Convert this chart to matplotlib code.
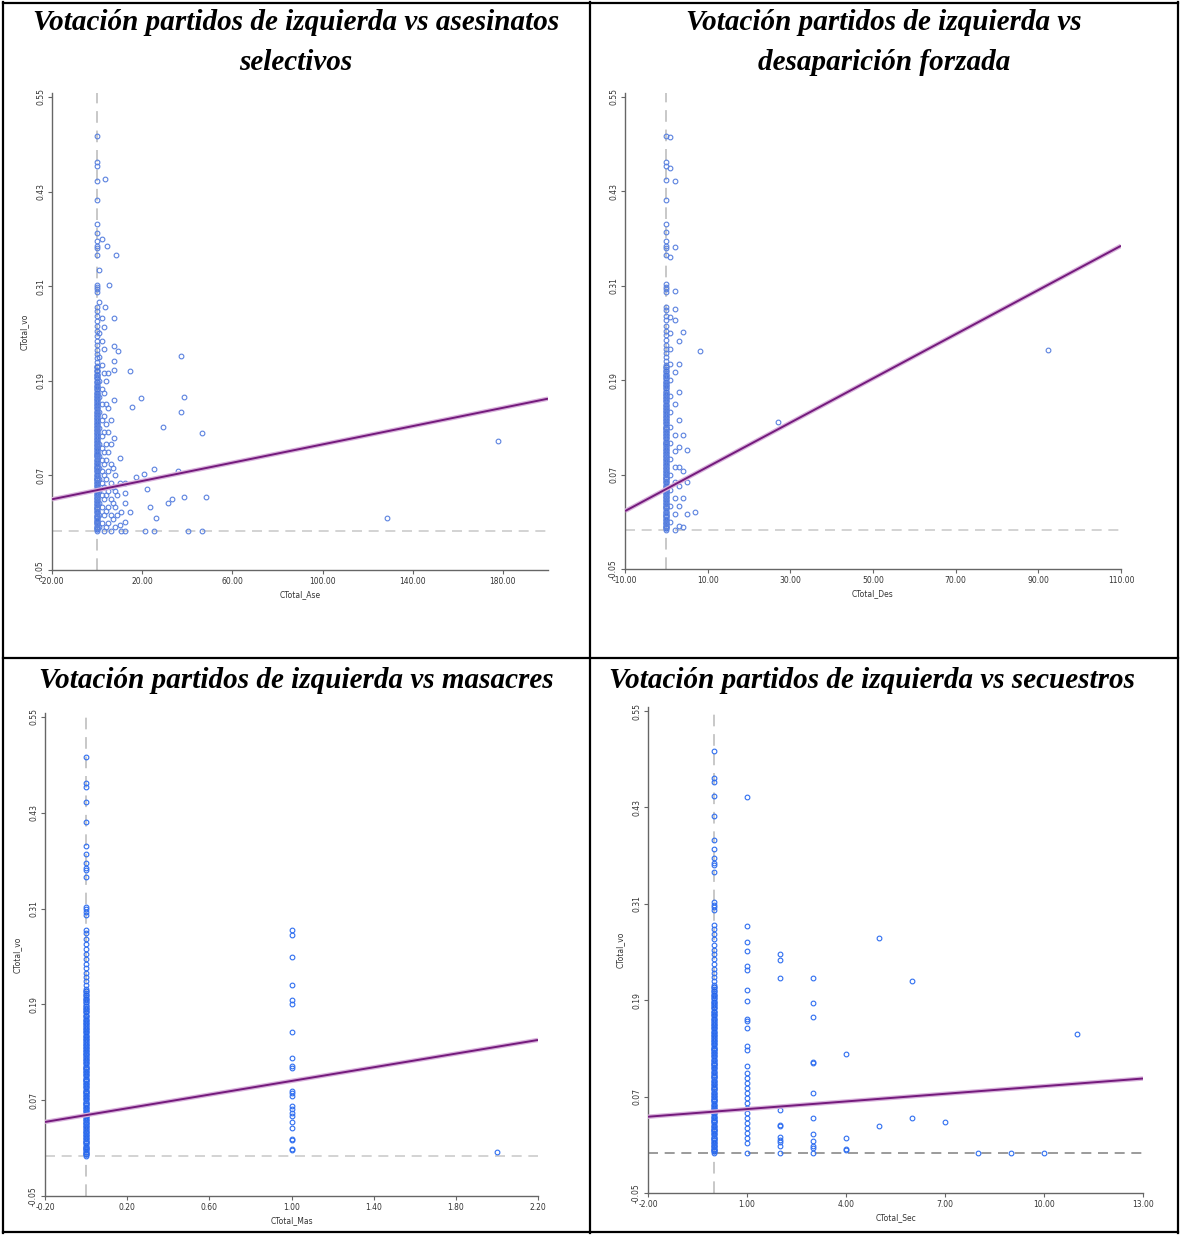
import numpy as np
import matplotlib.pyplot as plt
from matplotlib.lines import Line2D

W, H = 1180, 1235

# vote share of municipalities with zero events (same for every panel)
vote_zero = [0.000, 0.003, 0.007, 0.010, 0.014, 0.018, 0.021, 0.025, 0.029, 0.032,
             0.036, 0.040, 0.043, 0.047, 0.051, 0.054, 0.058, 0.062, 0.066, 0.069,
             0.073, 0.077, 0.080, 0.084, 0.088, 0.092, 0.095, 0.099, 0.103, 0.107,
             0.110, 0.114, 0.118, 0.122, 0.126, 0.129, 0.133, 0.137, 0.141, 0.145,
             0.149, 0.153, 0.157, 0.161, 0.165, 0.169, 0.173, 0.177, 0.182, 0.186,
             0.190, 0.195, 0.199, 0.204, 0.209, 0.214, 0.219, 0.224, 0.229, 0.235,
             0.241, 0.247, 0.253, 0.259, 0.266, 0.272, 0.279, 0.283,
             0.302, 0.306, 0.309, 0.312, 0.349, 0.358, 0.361, 0.367, 0.378, 0.389,
             0.419, 0.444, 0.462, 0.467, 0.500]
# further municipalities packed inside the solid part of the zero column
vote_zero_dense = [0.002, 0.005, 0.009, 0.012, 0.016, 0.019, 0.023, 0.027, 0.030, 0.034,
                   0.038, 0.041, 0.045, 0.049, 0.052, 0.056, 0.060, 0.064, 0.067, 0.071,
                   0.075, 0.079, 0.082, 0.086, 0.090, 0.094, 0.097, 0.101, 0.105, 0.109,
                   0.112, 0.116, 0.120, 0.124, 0.128, 0.131, 0.135, 0.139, 0.143, 0.147,
                   0.151, 0.155, 0.159, 0.163, 0.167, 0.171, 0.175, 0.180, 0.184, 0.188,
                   0.193, 0.197, 0.202, 0.207]

# asesinatos selectivos
ase_x = [1, 1, 1, 1, 1, 1, 1, 1, 1, 1, 1, 1, 1, 1, 1, 1,
         2, 2, 2, 2, 2, 2, 2, 2, 2, 2, 2, 2, 2, 2, 2,
         3, 3, 3, 3, 3, 3, 3, 3, 3, 3, 3, 3, 3, 3.6, 3.5,
         4, 4, 4, 4, 4, 4, 4, 4, 4, 4.3,
         5, 5, 5, 5, 5, 5, 5, 5, 5.3,
         6, 6, 6, 6, 6, 6, 6,
         7, 7, 7, 7, 7.6, 7.6, 7.6, 7.6, 7.6, 7.6,
         8, 8, 8, 8, 8.3, 9, 9, 9.4, 10, 10, 10.2, 10.7, 10.7,
         12.4, 12.4, 12.4, 12.4, 12.4, 14.5, 14.5, 15.4, 17.2, 19.6, 21, 21.2,
         22.3, 23.4, 25.3, 25.3, 26, 29.3, 31.4, 33.2, 36, 37.3, 37.3, 38.5,
         38.5, 40.5, 46.5, 46.5, 48.5, 128.7, 178]
ase_y = [0.005, 0.02, 0.035, 0.05, 0.065, 0.08, 0.095, 0.11, 0.13, 0.15, 0.17, 0.19, 0.22, 0.25, 0.29, 0.33,
         0.01, 0.03, 0.045, 0.06, 0.075, 0.09, 0.105, 0.12, 0.14, 0.16, 0.18, 0.21, 0.24, 0.27, 0.37,
         0.0, 0.02, 0.04, 0.055, 0.07, 0.085, 0.10, 0.125, 0.145, 0.175, 0.20, 0.23, 0.258, 0.446, 0.284,
         0.005, 0.025, 0.045, 0.065, 0.09, 0.11, 0.135, 0.16, 0.19, 0.361,
         0.01, 0.03, 0.05, 0.075, 0.10, 0.125, 0.155, 0.20, 0.312,
         0.0, 0.02, 0.04, 0.06, 0.085, 0.11, 0.14,
         0.015, 0.035, 0.055, 0.08, 0.117, 0.166, 0.204, 0.215, 0.234, 0.269,
         0.005, 0.03, 0.05, 0.07, 0.349, 0.02, 0.045, 0.228, 0.007, 0.06, 0.092, 0.023, 0.0,
         0.06, 0.048, 0.035, 0.011, 0.0, 0.203, 0.023, 0.157, 0.068, 0.168, 0.072, 0.0,
         0.053, 0.03, 0.078, 0.0, 0.016, 0.132, 0.035, 0.04, 0.076, 0.222, 0.15, 0.17,
         0.043, 0.0, 0.124, 0.0, 0.043, 0.016, 0.113]

# desaparicion forzada
des_x = [1, 1, 1, 1, 1, 1, 1, 1, 1, 1, 1, 1, 1, 1, 1, 1, 1,
         2, 2, 2, 2, 2, 2, 2, 2, 2, 2, 2, 2, 2, 2,
         3, 3, 3, 3, 3, 3, 3, 3, 3,
         4, 4, 4, 4, 4, 5, 5, 5, 7, 8.1, 27, 92.4]
des_y = [0.01, 0.03, 0.05, 0.07, 0.09, 0.11, 0.13, 0.15, 0.17, 0.19, 0.21, 0.23, 0.25, 0.27, 0.346, 0.46, 0.499,
         0.0, 0.02, 0.04, 0.06, 0.08, 0.10, 0.12, 0.16, 0.20, 0.267, 0.28, 0.303, 0.359, 0.443,
         0.005, 0.03, 0.055, 0.08, 0.105, 0.14, 0.175, 0.21, 0.24,
         0.003, 0.04, 0.075, 0.12, 0.251, 0.02, 0.06, 0.101, 0.023, 0.227, 0.137, 0.228]

# masacres
mas_x = [1] * 23 + [2]
mas_y = [0.283, 0.277, 0.249, 0.214, 0.196, 0.191, 0.156, 0.123, 0.113, 0.110, 0.081, 0.079,
         0.075, 0.063, 0.059, 0.054, 0.050, 0.043, 0.035, 0.022, 0.020, 0.009, 0.007, 0.005]

# secuestros
sec_x = [1] * 30 + [2] * 11 + [3] * 12 + [4] * 4 + [5, 5, 6, 6, 7, 8, 9, 10, 11]
sec_y = [0.443, 0.282, 0.262, 0.251, 0.233, 0.227, 0.203, 0.189, 0.166, 0.164, 0.155, 0.133,
         0.128, 0.108, 0.100, 0.093, 0.087, 0.081, 0.075, 0.068, 0.062, 0.056, 0.050, 0.043,
         0.037, 0.031, 0.025, 0.018, 0.012, 0.000,
         0.248, 0.240, 0.218, 0.053, 0.035, 0.034, 0.020, 0.016, 0.013, 0.008, 0.000,
         0.218, 0.186, 0.169, 0.113, 0.112, 0.075, 0.043, 0.023, 0.015, 0.008, 0.006, 0.000,
         0.123, 0.018, 0.005, 0.003,
         0.268, 0.034, 0.214, 0.043, 0.038, 0.0, 0.0, 0.0, 0.148]

# fitted lines (intercept, slope)
ase_fit = (0.0513, 0.00058)
des_fit = (0.0517, 0.00281)
mas_fit = (0.0513, 0.0428)
sec_fit = (0.0513, 0.00317)

y_ticks = [-0.05, 0.07, 0.19, 0.31, 0.43, 0.55]

panels = [
    dict(title=["Votación partidos de izquierda vs asesinatos", "selectivos"],
         x=ase_x, y=ase_y, fit=ase_fit, xlim=(-20, 200), xticks=[-20, 20, 60, 100, 140, 180],
         xlabel="CTotal_Ase", ylabel="CTotal_vo", box=(52, 548, 93, 570), tcx=296,
         color="#5b82df", dense="#3f6fe0", hcol="#cccccc"),
    dict(title=["Votación partidos de izquierda vs", "desaparición forzada"],
         x=des_x, y=des_y, fit=des_fit, xlim=(-10, 110), xticks=[-10, 10, 30, 50, 70, 90, 110],
         xlabel="CTotal_Des", ylabel=None, box=(625, 1121, 93, 569), tcx=884,
         color="#5b82df", dense="#3f6fe0", hcol="#cccccc"),
    dict(title=["Votación partidos de izquierda vs masacres"],
         x=mas_x, y=mas_y, fit=mas_fit, xlim=(-0.2, 2.2), xticks=[-0.2, 0.2, 0.6, 1.0, 1.4, 1.8, 2.2],
         xlabel="CTotal_Mas", ylabel="CTotal_vo", box=(45, 538, 713, 1196), tcx=296,
         color="#2f6ef0", dense="#1f5fe8", hcol="#cccccc"),
    dict(title=["Votación partidos de izquierda vs secuestros"],
         x=sec_x, y=sec_y, fit=sec_fit, xlim=(-2, 13), xticks=[-2, 1, 4, 7, 10, 13],
         xlabel="CTotal_Sec", ylabel="CTotal_vo", box=(648, 1143, 707, 1193), tcx=872,
         color="#2f6ef0", dense="#1f5fe8", hcol="#8a8a8a"),
]

fig = plt.figure(figsize=(W / 100, H / 100), dpi=100)
fig.patch.set_facecolor("white")

title_font = dict(family="Liberation Serif", weight="bold", style="italic", size=21)

for i, p in enumerate(panels):
    l, r, t, b = p["box"]
    ax = fig.add_axes([l / W, 1 - b / H, (r - l) / W, (b - t) / H])
    ax.set_xlim(*p["xlim"])
    ax.set_ylim(-0.05, 0.555)

    ax.axvline(0, color="#c8c8c8", lw=1.4, dashes=(6, 4), zorder=1)
    ax.axhline(0, color=p["hcol"], lw=1.2, dashes=(6, 4), zorder=1)

    ax.plot(np.zeros(len(vote_zero_dense)), vote_zero_dense, ls="none", marker="o", ms=3.6,
            mfc="none", mec=p["dense"], mew=1.0, zorder=2)
    xs = np.concatenate([np.zeros(len(vote_zero)), p["x"]])
    ys = np.concatenate([vote_zero, p["y"]])
    ax.plot(xs, ys, ls="none", marker="o", ms=3.4, mfc="none", mec=p["color"],
            mew=0.8, zorder=2)

    lx = np.array(p["xlim"])
    b0, b1 = p["fit"]
    ax.plot(lx, b0 + b1 * lx, color="#d9b3dc", lw=3.2, zorder=3, solid_capstyle="butt")
    ax.plot(lx, b0 + b1 * lx, color="#741a7c", lw=1.4, zorder=4, solid_capstyle="butt")

    for s in ["top", "right"]:
        ax.spines[s].set_visible(False)
    for s in ["left", "bottom"]:
        ax.spines[s].set_color("#666666")
        ax.spines[s].set_linewidth(1.0)

    ax.set_xticks(p["xticks"])
    ax.set_xticklabels([f"{v:.2f}" for v in p["xticks"]])
    ax.set_yticks(y_ticks)
    ax.set_yticklabels([f"{v:.2f}" for v in y_ticks], rotation=90, va="center")
    ax.tick_params(length=3, width=0.8, color="#666666", labelsize=5.5,
                   labelcolor="#333333", pad=2)
    ax.set_xlabel(p["xlabel"], fontsize=5.5, color="#333333", labelpad=3)
    if p["ylabel"]:
        ax.set_ylabel(p["ylabel"], fontsize=5.5, color="#333333", labelpad=5)

    ty = 22 if i < 2 else 680
    for k, line in enumerate(p["title"]):
        fig.text(p["tcx"] / W, 1 - (ty + 40 * k) / H, line, ha="center", va="center",
                 **title_font)

# table borders
for x in [3, 590, 1178]:
    fig.add_artist(Line2D([x / W, x / W], [1 - 2 / H, 1 - 1233 / H], color="black", lw=1.6))
for y in [3, 658, 1232]:
    fig.add_artist(Line2D([3 / W, 1178 / W], [1 - y / H, 1 - y / H], color="black", lw=1.6))

fig.savefig("out.png", dpi=100)
